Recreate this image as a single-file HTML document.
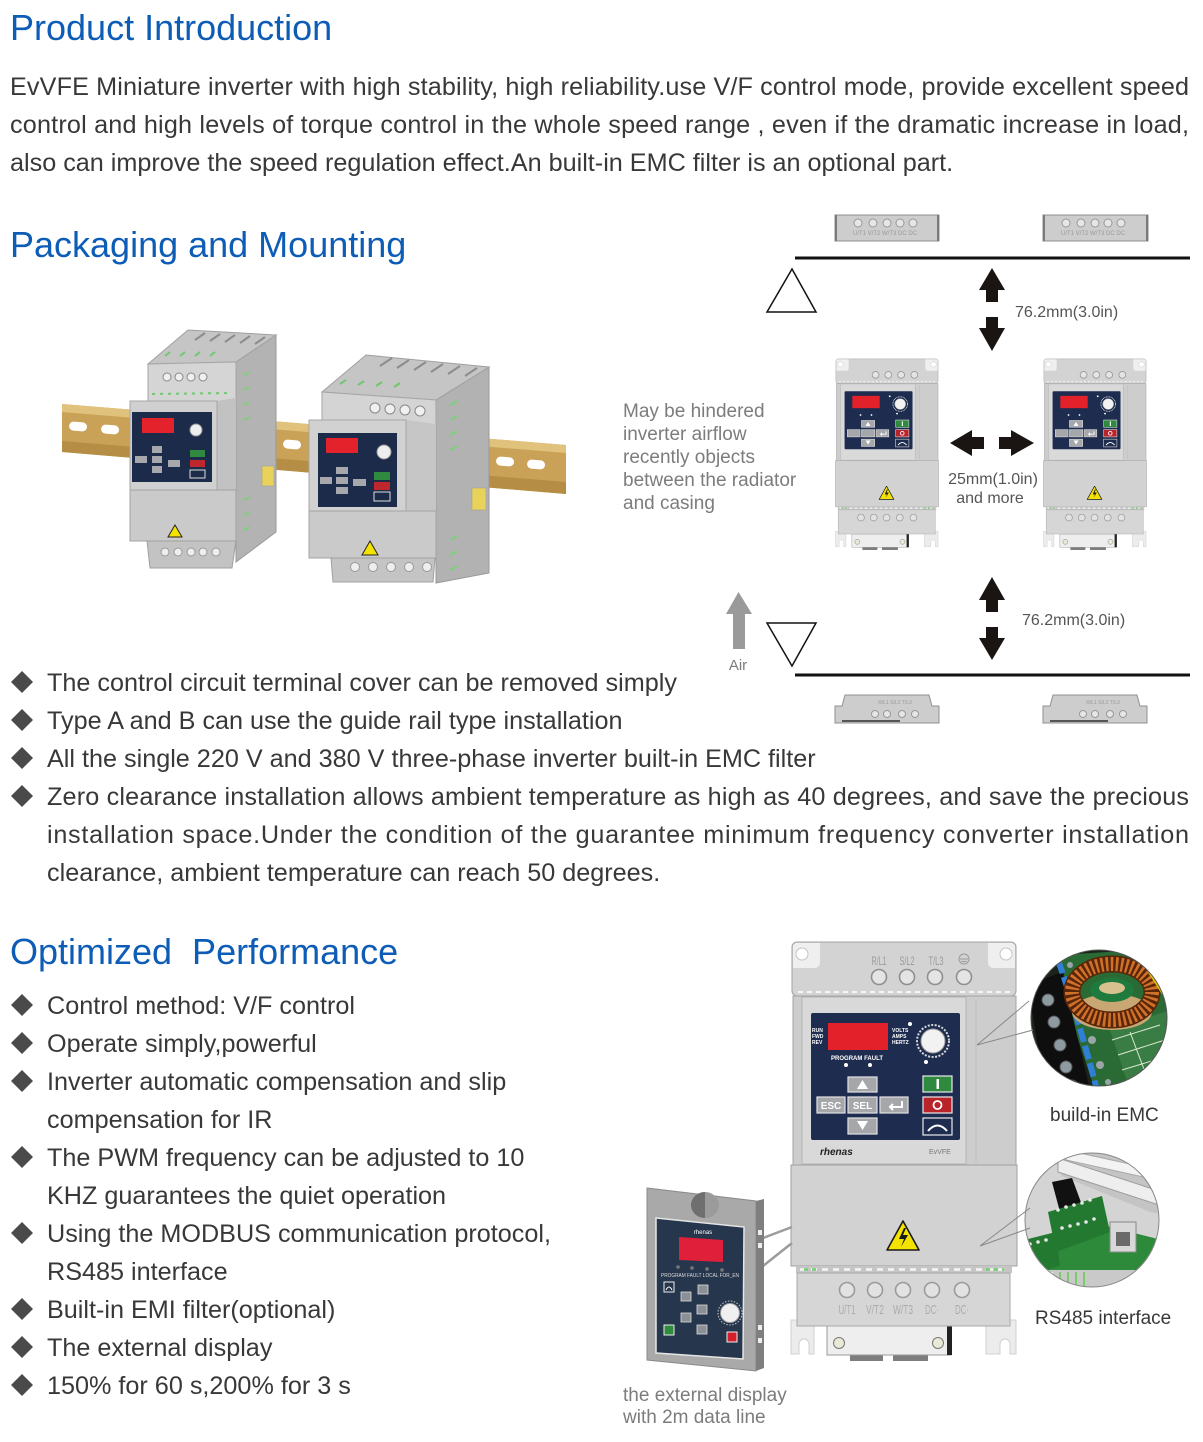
<!DOCTYPE html>
<html>
<head>
<meta charset="utf-8">
<style>
html,body{margin:0;padding:0;background:#fff;}
body{width:1203px;height:1442px;overflow:hidden;}
svg{display:block;}
text{font-family:"Liberation Sans",Arial,sans-serif;}
</style>
</head>
<body>
<svg width="1203" height="1442" viewBox="0 0 1203 1442" xmlns="http://www.w3.org/2000/svg">
<defs>
  <g id="inv">
    <rect x="60" y="414" width="33" height="7" fill="#7d7d7d"/>
    <rect x="103" y="414" width="35" height="7" fill="#7d7d7d"/>
    <path d="M1,380 H24 V414 H19 V404 A5,5 0 0 0 9,404 V414 H1 Z" fill="#ececec" stroke="#d0d0d0"/>
    <path d="M196,380 H226 V414 H220 V404 A5,5 0 0 0 210,404 V414 H196 Z" fill="#ececec" stroke="#d0d0d0"/>
    <rect x="37" y="386" width="124" height="29" fill="#eeeeee" stroke="#9a9a9a"/>
    <rect x="157" y="386" width="5" height="29" fill="#222"/>
    <circle cx="49" cy="403" r="5.5" fill="#e9e9d6" stroke="#777"/>
    <circle cx="148" cy="403" r="5.5" fill="#e9e9d6" stroke="#777"/>
    <rect x="2" y="2" width="224" height="54" rx="5" fill="#d3d3d3" stroke="#a3a3a3"/>
    <path d="M3,7 Q3,3 7,3 H30 V22 Q30,28 24,28 H3 Z" fill="#efefef"/>
    <circle cx="12" cy="14" r="6" fill="#fff" stroke="#c4c4c4"/>
    <path d="M225,7 Q225,3 221,3 H198 V22 Q198,28 204,28 H225 Z" fill="#efefef"/>
    <circle cx="216" cy="14" r="6" fill="#fff" stroke="#c4c4c4"/>
    <g fill="#e4e4e4" stroke="#8f8f8f" stroke-width="1.6">
      <circle cx="89" cy="37" r="7.5"/><circle cx="117" cy="37" r="7.5"/>
      <circle cx="145" cy="37" r="7.5"/><circle cx="174" cy="37" r="7.5"/>
    </g>
    <line x1="8" y1="52" x2="220" y2="52" stroke="#f6f6f6" stroke-width="2" stroke-dasharray="5 4"/>
    <rect x="3" y="56" width="223" height="170" fill="#cdcdcd" stroke="#a3a3a3"/>
    <rect x="12" y="57" width="164" height="167" fill="#d9d9d9" stroke="#b3b3b3"/>
    <line x1="186" y1="60" x2="186" y2="222" stroke="#bdbdbd"/>
    <rect x="21" y="73" width="149" height="127" rx="2" fill="#1e2d4f"/>
    <rect x="38" y="83" width="60" height="27" fill="#e3212a"/>
    <circle cx="143" cy="101" r="16" fill="none" stroke="#d8d8d8" stroke-width="2" stroke-dasharray="2 1.5"/>
    <circle cx="143" cy="101" r="12" fill="#f2f2f2" stroke="#999"/>
    <g fill="#fff">
      <circle cx="56" cy="125" r="2"/><circle cx="80" cy="125" r="2"/>
      <circle cx="136" cy="122" r="2"/><circle cx="120" cy="84" r="2"/>
    </g>
    <g fill="#a6a7ab" stroke="#e2e2e2" stroke-width="1.2">
      <rect x="58" y="137" width="29" height="15"/>
      <rect x="27" y="157" width="28" height="16"/>
      <rect x="58" y="157" width="29" height="16"/>
      <rect x="90" y="157" width="28" height="16"/>
      <rect x="58" y="178" width="29" height="16"/>
    </g>
    <path d="M72.5,140 L78,149 L67,149 Z" fill="#fff"/>
    <path d="M67,181 L78,181 L72.5,190 Z" fill="#fff"/>
    <path d="M112,161 V167 H100 M103,164 L100,167 L103,170" fill="none" stroke="#fff" stroke-width="2"/>
    <rect x="133" y="136" width="29" height="16" fill="#2f8a3f" stroke="#e8e8e8" stroke-width="1.2"/>
    <rect x="146.5" y="139" width="2.5" height="10" fill="#fff"/>
    <rect x="133" y="157" width="29" height="16" fill="#b8242a" stroke="#e8e8e8" stroke-width="1.2"/>
    <circle cx="147.5" cy="165" r="4" fill="none" stroke="#fff" stroke-width="1.8"/>
    <rect x="133" y="178" width="29" height="17" fill="#1e2d4f" stroke="#e8e8e8" stroke-width="1.2"/>
    <path d="M138,191 Q147.5,180 157,191" fill="none" stroke="#fff" stroke-width="2"/>
    <rect x="1" y="225" width="226" height="101" fill="#d2d2d2" stroke="#a0a0a0"/>
    <path d="M113,281 L129,310 L97,310 Z" fill="#f4e300" stroke="#1a1a1a" stroke-width="1.6" stroke-linejoin="round"/>
    <path d="M114,288 L109,299 L114,299 L111,307 L118,295 L113,295 L116,288 Z" fill="#1a1a1a"/>
    <rect x="6" y="326" width="216" height="7" fill="#c6c6c6"/>
    <line x1="10" y1="329.5" x2="218" y2="329.5" stroke="#f5f5f5" stroke-width="2.5" stroke-dasharray="6 5"/>
    <line x1="14" y1="329.5" x2="30" y2="329.5" stroke="#6fd06f" stroke-width="2.5" stroke-dasharray="4 4"/>
    <line x1="196" y1="329.5" x2="214" y2="329.5" stroke="#6fd06f" stroke-width="2.5" stroke-dasharray="4 4"/>
    <rect x="7" y="333" width="213" height="53" fill="#d6d6d6" stroke="#a8a8a8"/>
    <g fill="#e2e2e2" stroke="#9a9a9a" stroke-width="1.6">
      <circle cx="57" cy="350" r="7.5"/><circle cx="85" cy="350" r="7.5"/>
      <circle cx="113" cy="350" r="7.5"/><circle cx="142" cy="350" r="7.5"/>
      <circle cx="172" cy="350" r="7.5"/>
    </g>
  </g>
  <clipPath id="c1"><circle cx="1099" cy="1018" r="68"/></clipPath>
  <clipPath id="c2"><circle cx="1092" cy="1220" r="67"/></clipPath>
</defs>

<g font-size="36" fill="#0d5cb6">
  <text x="10" y="40">Product Introduction</text>
  <text x="10" y="257">Packaging and Mounting</text>
  <text x="10" y="964" style="white-space:pre">Optimized  Performance</text>
</g>

<g font-size="25.2" fill="#383838">
  <text x="10" y="95" textLength="1179" lengthAdjust="spacing">EvVFE Miniature inverter with high stability, high reliability.use V/F control mode, provide excellent speed</text>
  <text x="10" y="133" textLength="1179" lengthAdjust="spacing">control and high levels of torque control in the whole speed range , even if the dramatic increase in load,</text>
  <text x="10" y="171">also can improve the speed regulation effect.An built-in EMC filter is an optional part.</text>
</g>

<g fill="#4a4a4a">
  <path d="M22,671 L33,682 L22,693 L11,682 Z"/>
  <path d="M22,709 L33,720 L22,731 L11,720 Z"/>
  <path d="M22,747 L33,758 L22,769 L11,758 Z"/>
  <path d="M22,785 L33,796 L22,807 L11,796 Z"/>
</g>
<g font-size="25.2" fill="#383838">
  <text x="47" y="691">The control circuit terminal cover can be removed simply</text>
  <text x="47" y="729">Type A and B can use the guide rail type installation</text>
  <text x="47" y="767">All the single 220 V and 380 V three-phase inverter built-in EMC filter</text>
  <text x="47" y="805" textLength="1142" lengthAdjust="spacing">Zero clearance installation allows ambient temperature as high as 40 degrees, and save the precious</text>
  <text x="47" y="843" textLength="1142" lengthAdjust="spacing">installation space.Under the condition of the guarantee minimum frequency converter installation</text>
  <text x="47" y="881">clearance, ambient temperature can reach 50 degrees.</text>
</g>

<g fill="#4a4a4a">
  <path d="M22,994 L33,1005 L22,1016 L11,1005 Z"/>
  <path d="M22,1032 L33,1043 L22,1054 L11,1043 Z"/>
  <path d="M22,1070 L33,1081 L22,1092 L11,1081 Z"/>
  <path d="M22,1146 L33,1157 L22,1168 L11,1157 Z"/>
  <path d="M22,1222 L33,1233 L22,1244 L11,1233 Z"/>
  <path d="M22,1298 L33,1309 L22,1320 L11,1309 Z"/>
  <path d="M22,1336 L33,1347 L22,1358 L11,1347 Z"/>
  <path d="M22,1374 L33,1385 L22,1396 L11,1385 Z"/>
</g>
<g font-size="25.2" fill="#383838">
  <text x="47" y="1014">Control method: V/F control</text>
  <text x="47" y="1052">Operate simply,powerful</text>
  <text x="47" y="1090">Inverter automatic compensation and slip</text>
  <text x="47" y="1128">compensation for IR</text>
  <text x="47" y="1166">The PWM frequency can be adjusted to 10</text>
  <text x="47" y="1204">KHZ guarantees the quiet operation</text>
  <text x="47" y="1242">Using the MODBUS communication protocol,</text>
  <text x="47" y="1280">RS485 interface</text>
  <text x="47" y="1318">Built-in EMI filter(optional)</text>
  <text x="47" y="1356">The external display</text>
  <text x="47" y="1394">150% for 60 s,200% for 3 s</text>
</g>

<!-- DIN rail picture -->
<polygon points="62,404 566,445 566,494 62,452" fill="#c9a257"/>
<polygon points="62,404 566,445 566,453 62,412" fill="#e0c27c"/>
<polygon points="62,441 566,482 566,494 62,452" fill="#b58d45"/>
<g fill="#fff">
  <rect x="69" y="422" width="18" height="9" rx="4.5" transform="rotate(4.6 78 427)"/>
  <rect x="101" y="425" width="18" height="9" rx="4.5" transform="rotate(4.6 110 430)"/>
  <rect x="283" y="440" width="18" height="9" rx="4.5" transform="rotate(4.6 292 445)"/>
  <rect x="496" y="457" width="18" height="9" rx="4.5" transform="rotate(4.6 505 462)"/>
  <rect x="527" y="460" width="18" height="9" rx="4.5" transform="rotate(4.6 536 465)"/>
</g>

<polygon points="236,362 276,335 276,532 236,562" fill="#b3b3b3" stroke="#9a9a9a"/>
<g stroke="#7fcf7f" stroke-width="2">
  <line x1="244" y1="375" x2="250" y2="372"/><line x1="244" y1="390" x2="250" y2="387"/>
  <line x1="244" y1="405" x2="250" y2="402"/><line x1="244" y1="420" x2="250" y2="417"/>
  <line x1="244" y1="500" x2="250" y2="497"/><line x1="244" y1="515" x2="250" y2="512"/>
  <line x1="244" y1="530" x2="250" y2="527"/>
</g>
<rect x="262" y="466" width="12" height="20" fill="#e8d25a" stroke="#999" stroke-width="0.5"/>
<polygon points="148,364 188,330 276,335 236,362" fill="#c5c5c5" stroke="#a0a0a0"/>
<g stroke="#8c8c8c" stroke-width="2">
  <line x1="195" y1="340" x2="205" y2="333"/><line x1="210" y1="341" x2="220" y2="334"/>
  <line x1="225" y1="342" x2="235" y2="335"/><line x1="240" y1="343" x2="250" y2="336"/>
  <line x1="255" y1="344" x2="265" y2="337"/>
</g>
<g stroke="#6fc86f" stroke-width="2">
  <line x1="165" y1="356" x2="170" y2="352"/><line x1="180" y1="356" x2="185" y2="352"/>
  <line x1="195" y1="356" x2="200" y2="352"/><line x1="210" y1="356" x2="215" y2="352"/>
</g>
<polygon points="148,364 236,362 236,402 148,404" fill="#d5d5d5" stroke="#a6a6a6"/>
<g fill="#f0f0f0" stroke="#888">
  <circle cx="167" cy="377" r="4"/><circle cx="179" cy="377" r="4"/>
  <circle cx="191" cy="377" r="4"/><circle cx="203" cy="377" r="4"/>
</g>
<line x1="152" y1="394" x2="232" y2="393" stroke="#6fc86f" stroke-width="2" stroke-dasharray="3 5"/>
<polygon points="217,401 236,398 236,540 217,493" fill="#c2c2c2"/>
<rect x="130" y="401" width="87" height="92" fill="#d0d0d0" stroke="#a6a6a6"/>
<rect x="132" y="412" width="80" height="70" fill="#1d2b4a"/>
<rect x="142" y="418" width="32" height="15" fill="#e3222b"/>
<circle cx="196" cy="430" r="6" fill="#eee" stroke="#999"/>
<g fill="#a7a8ac">
  <rect x="152" y="446" width="10" height="7"/><rect x="135" y="456" width="12" height="7"/>
  <rect x="152" y="456" width="10" height="7"/><rect x="168" y="460" width="12" height="7"/>
  <rect x="152" y="466" width="10" height="7"/>
</g>
<rect x="190" y="450" width="15" height="7" fill="#2f8a3f"/>
<rect x="190" y="460" width="15" height="7" fill="#c0272d"/>
<rect x="190" y="470" width="15" height="8" fill="#1d2b4a" stroke="#ddd"/>
<rect x="130" y="490" width="106" height="51" fill="#cacaca" stroke="#a3a3a3"/>
<path d="M175,525 L182,537 L168,537 Z" fill="#f4e300" stroke="#222"/>
<polygon points="147,541 236,541 232,568 150,568" fill="#c3c3c3" stroke="#a0a0a0"/>
<g fill="#eee" stroke="#999">
  <circle cx="165" cy="552" r="4"/><circle cx="178" cy="552" r="4"/>
  <circle cx="191" cy="552" r="4"/><circle cx="203" cy="552" r="4"/><circle cx="216" cy="552" r="4"/>
</g>

<polygon points="436,400 489,367 489,573 436,583" fill="#b2b2b2" stroke="#999"/>
<g stroke="#7fcf7f" stroke-width="2">
  <line x1="450" y1="405" x2="458" y2="401"/><line x1="450" y1="420" x2="458" y2="416"/>
  <line x1="450" y1="435" x2="458" y2="431"/><line x1="450" y1="450" x2="458" y2="446"/>
  <line x1="450" y1="540" x2="458" y2="536"/><line x1="450" y1="555" x2="458" y2="551"/>
  <line x1="450" y1="570" x2="458" y2="566"/>
</g>
<rect x="472" y="488" width="14" height="22" fill="#e8d25a" stroke="#999" stroke-width="0.5"/>
<polygon points="322,392 366,355 489,367 436,400" fill="#c5c5c5" stroke="#a0a0a0"/>
<g stroke="#8c8c8c" stroke-width="2">
  <line x1="380" y1="366" x2="392" y2="358"/><line x1="397" y1="368" x2="409" y2="360"/>
  <line x1="414" y1="370" x2="426" y2="362"/><line x1="431" y1="372" x2="443" y2="364"/>
  <line x1="448" y1="374" x2="460" y2="366"/><line x1="465" y1="376" x2="477" y2="368"/>
</g>
<g stroke="#6fc86f" stroke-width="2">
  <line x1="340" y1="384" x2="346" y2="380"/><line x1="358" y1="385" x2="364" y2="381"/>
  <line x1="376" y1="386" x2="382" y2="382"/><line x1="394" y1="387" x2="400" y2="383"/>
</g>
<polygon points="322,392 436,400 436,425 322,420" fill="#d4d4d4" stroke="#a6a6a6"/>
<g fill="#f0f0f0" stroke="#888">
  <circle cx="375" cy="408" r="5"/><circle cx="390" cy="409" r="5"/>
  <circle cx="405" cy="410" r="5"/><circle cx="420" cy="411" r="5"/>
</g>
<polygon points="406,420 436,424 436,512 406,512" fill="#c6c6c6"/>
<rect x="309" y="420" width="97" height="92" fill="#d1d1d1" stroke="#a6a6a6"/>
<rect x="318" y="433" width="79" height="74" fill="#1d2b4a"/>
<rect x="326" y="438" width="32" height="15" fill="#e3222b"/>
<circle cx="384" cy="452" r="7" fill="#eee" stroke="#999"/>
<g fill="#a7a8ac">
  <rect x="336" y="467" width="12" height="7"/><rect x="320" y="477" width="12" height="7"/>
  <rect x="336" y="477" width="12" height="7"/><rect x="353" y="479" width="13" height="7"/>
  <rect x="336" y="487" width="12" height="7"/>
</g>
<rect x="374" y="472" width="16" height="8" fill="#2f8a3f"/>
<rect x="374" y="482" width="16" height="8" fill="#c0272d"/>
<rect x="374" y="492" width="16" height="9" fill="#1d2b4a" stroke="#ddd"/>
<rect x="309" y="511" width="127" height="47" fill="#cacaca" stroke="#a3a3a3"/>
<path d="M370,541 L378,555 L362,555 Z" fill="#f4e300" stroke="#222"/>
<polygon points="331,558 435,558 433,582 333,582" fill="#c4c4c4" stroke="#a0a0a0"/>
<g fill="#eee" stroke="#999">
  <circle cx="355" cy="567" r="4.5"/><circle cx="373" cy="567" r="4.5"/>
  <circle cx="391" cy="567" r="4.5"/><circle cx="409" cy="567" r="4.5"/><circle cx="427" cy="567" r="4.5"/>
</g>

<!-- clearance diagram -->
<g>
  <rect x="835" y="215" width="104" height="26" fill="#cdcdcd" stroke="#8e8e8e"/>
  <rect x="835" y="215" width="2" height="26" fill="#7a7a7a"/><rect x="937" y="215" width="2" height="26" fill="#7a7a7a"/>
  <g fill="#e6e6e6" stroke="#999"><circle cx="858" cy="223" r="4"/><circle cx="873" cy="223" r="4"/><circle cx="887" cy="223" r="4"/><circle cx="900" cy="223" r="4"/><circle cx="913" cy="223" r="4"/></g>
  <text x="885" y="235" font-size="6" fill="#9a9a9a" text-anchor="middle">U/T1 V/T2 W/T3 DC DC</text>
  <rect x="1043" y="215" width="105" height="26" fill="#cdcdcd" stroke="#8e8e8e"/>
  <rect x="1043" y="215" width="2" height="26" fill="#7a7a7a"/><rect x="1146" y="215" width="2" height="26" fill="#7a7a7a"/>
  <g fill="#e6e6e6" stroke="#999"><circle cx="1066" cy="223" r="4"/><circle cx="1081" cy="223" r="4"/><circle cx="1095" cy="223" r="4"/><circle cx="1108" cy="223" r="4"/><circle cx="1121" cy="223" r="4"/></g>
  <text x="1093" y="235" font-size="6" fill="#9a9a9a" text-anchor="middle">U/T1 V/T2 W/T3 DC DC</text>
</g>
<line x1="795" y1="258" x2="1190" y2="258" stroke="#111" stroke-width="3"/>
<line x1="795" y1="675" x2="1190" y2="675" stroke="#111" stroke-width="3"/>
<polygon points="792,269 816,312 767,312" fill="none" stroke="#111" stroke-width="1.5"/>
<polygon points="767,623 816,623 792,666" fill="none" stroke="#111" stroke-width="1.5"/>
<g fill="#1a1512">
  <path d="M992,268 L1005,290 L998,290 L998,302 L986,302 L986,290 L979,290 Z"/>
  <path d="M986,317 L998,317 L998,328 L1005,328 L992,351 L979,328 L986,328 Z"/>
  <path d="M992,577 L1005,600 L998,600 L998,612 L986,612 L986,600 L979,600 Z"/>
  <path d="M986,627 L998,627 L998,638 L1005,638 L992,660 L979,638 L986,638 Z"/>
  <path d="M950,443 L972,430 L972,437 L984,437 L984,449 L972,449 L972,456 Z"/>
  <path d="M1034,443 L1011,430 L1011,437 L999,437 L999,449 L1011,449 L1011,456 Z"/>
</g>
<path d="M738.5,592 L752,614 L745,614 L745,649 L733,649 L733,614 L726,614 Z" fill="#9a9a9a"/>

<use href="#inv" transform="translate(835,358) scale(0.456)"/>
<use href="#inv" transform="translate(1043,358) scale(0.456)"/>

<path d="M835,723 V706 H842 L845,695 H929 L932,706 H939 V723 Z" fill="#cdcdcd" stroke="#909090"/>
<g fill="#e6e6e6" stroke="#999"><circle cx="875" cy="714" r="3.5"/><circle cx="887" cy="714" r="3.5"/><circle cx="902" cy="714" r="3.5"/><circle cx="915" cy="714" r="3.5"/></g>
<text x="895" y="704" font-size="5" fill="#9a9a9a" text-anchor="middle">R/L1 S/L2 T/L3</text>
<line x1="842" y1="721" x2="900" y2="721" stroke="#555" stroke-width="2"/>
<path d="M1043,723 V706 H1050 L1053,695 H1137 L1140,706 H1147 V723 Z" fill="#cdcdcd" stroke="#909090"/>
<g fill="#e6e6e6" stroke="#999"><circle cx="1083" cy="714" r="3.5"/><circle cx="1095" cy="714" r="3.5"/><circle cx="1110" cy="714" r="3.5"/><circle cx="1123" cy="714" r="3.5"/></g>
<text x="1103" y="704" font-size="5" fill="#9a9a9a" text-anchor="middle">R/L1 S/L2 T/L3</text>
<line x1="1050" y1="721" x2="1108" y2="721" stroke="#555" stroke-width="2"/>

<g font-size="19" fill="#7c7c7c">
  <text x="623" y="417">May be hindered</text>
  <text x="623" y="440">inverter airflow</text>
  <text x="623" y="463">recently objects</text>
  <text x="623" y="486">between the radiator</text>
  <text x="623" y="509">and casing</text>
</g>
<g font-size="16" fill="#555">
  <text x="1015" y="317">76.2mm(3.0in)</text>
  <text x="1022" y="625">76.2mm(3.0in)</text>
  <text x="993" y="484" text-anchor="middle">25mm(1.0in)</text>
  <text x="990" y="503" text-anchor="middle">and more</text>
</g>
<text x="738" y="670" font-size="15" fill="#7c7c7c" text-anchor="middle">Air</text>

<!-- big inverter -->
<use href="#inv" transform="translate(790,940)"/>
<g font-size="12" fill="#9a9a9a" text-anchor="middle">
  <text x="879" y="965" textLength="15" lengthAdjust="spacingAndGlyphs">R/L1</text>
  <text x="907" y="965" textLength="15" lengthAdjust="spacingAndGlyphs">S/L2</text>
  <text x="936" y="965" textLength="15" lengthAdjust="spacingAndGlyphs">T/L3</text>
</g>
<circle cx="964" cy="959" r="5" fill="none" stroke="#9a9a9a"/>
<line x1="960" y1="959" x2="968" y2="959" stroke="#9a9a9a"/>
<line x1="961.5" y1="961.5" x2="966.5" y2="961.5" stroke="#9a9a9a"/>
<g font-size="5" fill="#fff" font-weight="bold">
  <text x="812" y="1032">RUN</text><text x="812" y="1038">FWD</text><text x="812" y="1044">REV</text>
  <text x="892" y="1032">VOLTS</text><text x="892" y="1038">AMPS</text><text x="892" y="1044">HERTZ</text>
</g>
<text x="831" y="1060" font-size="6.5" font-weight="bold" fill="#fff" textLength="52" lengthAdjust="spacingAndGlyphs">PROGRAM FAULT</text>
<text x="831" y="1109" font-size="10" font-weight="bold" fill="#fff" text-anchor="middle">ESC</text>
<text x="862.5" y="1109" font-size="10" font-weight="bold" fill="#fff" text-anchor="middle">SEL</text>
<text x="820" y="1155" font-size="10" font-style="italic" font-weight="bold" fill="#222">rhenas</text>
<text x="929" y="1154" font-size="7" fill="#777">EvVFE</text>
<g font-size="13" fill="#ababab" text-anchor="middle">
  <text x="847" y="1314" textLength="17" lengthAdjust="spacingAndGlyphs">U/T1</text>
  <text x="875" y="1314" textLength="18" lengthAdjust="spacingAndGlyphs">V/T2</text>
  <text x="903" y="1314" textLength="20" lengthAdjust="spacingAndGlyphs">W/T3</text>
  <text x="932" y="1314" textLength="14" lengthAdjust="spacingAndGlyphs">DC·</text>
  <text x="962" y="1314" textLength="14" lengthAdjust="spacingAndGlyphs">DC·</text>
</g>

<!-- EMC circle -->
<g clip-path="url(#c1)">
  <rect x="1028" y="948" width="142" height="142" fill="#1a2418"/>
  <polygon points="1060,955 1170,948 1170,1090 1095,1090 1075,1030" fill="#2a6a35"/>
  <polygon points="1110,1030 1170,1010 1170,1090 1130,1090" fill="#3a7d44"/>
  <g stroke="#d8e8d0" stroke-width="1" fill="none">
    <path d="M1112,1040 L1160,1025 M1118,1055 L1165,1040 M1122,1070 L1168,1056 M1130,1032 L1148,1080"/>
  </g>
  <polygon points="1028,985 1062,972 1090,1090 1045,1090" fill="#0e0e0e"/>
  <g fill="#8d9aa0" stroke="#555">
    <circle cx="1048" cy="1000" r="6"/><circle cx="1054" cy="1022" r="6"/>
    <circle cx="1060" cy="1045" r="6"/><circle cx="1066" cy="1067" r="6"/><circle cx="1072" cy="1086" r="6"/>
  </g>
  <path d="M1058,960 C1072,1000 1084,1040 1097,1090" stroke="#2f7fd6" stroke-width="6" fill="none" stroke-dasharray="14 4"/>
  <ellipse cx="1112" cy="1012" rx="40" ry="18" fill="#c8a773"/>
  <ellipse cx="1112" cy="992" rx="40" ry="28" fill="none" stroke="#5a260a" stroke-width="17"/>
  <ellipse cx="1112" cy="992" rx="40" ry="28" fill="none" stroke="#d0712a" stroke-width="14" stroke-dasharray="2.5 2.5"/>
  <ellipse cx="1112" cy="990" rx="22" ry="12" fill="#1f7a3e"/>
  <ellipse cx="1112" cy="988" rx="13" ry="6" fill="#d7c18e"/>
  <line x1="1150" y1="972" x2="1168" y2="1000" stroke="#e0c000" stroke-width="4"/>
  <g fill="#9aa5a8"><circle cx="1092" cy="1040" r="4"/><circle cx="1100" cy="1065" r="4"/><circle cx="1108" cy="1082" r="3"/><circle cx="1070" cy="965" r="3"/></g>
</g>
<circle cx="1099" cy="1018" r="68" fill="none" stroke="#555" stroke-width="1"/>
<path d="M1029,1001 L977,1045 L1033,1030" fill="none" stroke="#888" stroke-width="1"/>
<text x="1050" y="1121" font-size="19" fill="#383838">build-in EMC</text>

<!-- RS485 circle -->
<g clip-path="url(#c2)">
  <rect x="1022" y="1150" width="145" height="142" fill="#d4d4d4"/>
  <polygon points="1050,1150 1166,1150 1166,1215 1150,1212 1062,1176" fill="#c4c4c4"/>
  <polygon points="1058,1158 1162,1192 1162,1206 1058,1172" fill="#eeeeee" stroke="#9c9c9c"/>
  <polygon points="1066,1150 1166,1172 1166,1182 1066,1160" fill="#f3f3f3" stroke="#a8a8a8"/>
  <polygon points="1052,1182 1072,1178 1082,1205 1060,1212" fill="#111"/>
  <polygon points="1025,1248 1090,1222 1130,1232 1162,1240 1162,1266 1080,1296 1025,1286" fill="#2e8a3b"/>
  <polygon points="1048,1212 1102,1196 1110,1232 1056,1252" fill="#23792f"/>
  <polygon points="1024,1240 1056,1232 1060,1266 1024,1276" fill="#23792f"/>
  <g fill="#e8e8e8">
    <circle cx="1058" cy="1210" r="1.8"/><circle cx="1066" cy="1207" r="1.8"/><circle cx="1074" cy="1205" r="1.8"/><circle cx="1082" cy="1203" r="1.8"/><circle cx="1090" cy="1200" r="1.8"/>
    <circle cx="1062" cy="1228" r="1.8"/><circle cx="1070" cy="1226" r="1.8"/><circle cx="1078" cy="1224" r="1.8"/><circle cx="1086" cy="1222" r="1.8"/><circle cx="1094" cy="1219" r="1.8"/>
    <circle cx="1030" cy="1244" r="1.8"/><circle cx="1038" cy="1242" r="1.8"/><circle cx="1046" cy="1240" r="1.8"/>
  </g>
  <rect x="1110" y="1222" width="26" height="30" fill="#d8d8d8" stroke="#888"/>
  <rect x="1116" y="1232" width="14" height="14" fill="#6a6a6a"/>
  <rect x="1030" y="1270" width="135" height="25" fill="#c9c9c9"/>
  <g stroke="#7acb6a" stroke-width="2">
    <line x1="1060" y1="1272" x2="1060" y2="1290"/><line x1="1068" y1="1272" x2="1068" y2="1290"/>
    <line x1="1076" y1="1272" x2="1076" y2="1290"/><line x1="1084" y1="1272" x2="1084" y2="1290"/>
  </g>
  <g stroke="#f2f2f2" stroke-width="2">
    <line x1="1045" y1="1272" x2="1045" y2="1290"/><line x1="1052" y1="1272" x2="1052" y2="1290"/>
  </g>
</g>
<circle cx="1092" cy="1220" r="67" fill="none" stroke="#888" stroke-width="1"/>
<path d="M1030,1208 L980,1246 L1030,1228" fill="none" stroke="#888" stroke-width="1"/>
<text x="1035" y="1324" font-size="19" fill="#383838">RS485 interface</text>

<!-- external display -->
<path d="M763,1238 L792,1227" stroke="#9c9c9c" stroke-width="2.5"/>
<path d="M763,1266 L792,1243" stroke="#9c9c9c" stroke-width="2.5"/>
<polygon points="647,1188 756,1201 756,1371 647,1360" fill="#a9a9a9" stroke="#8a8a8a"/>
<polygon points="756,1201 764,1199 764,1368 756,1371" fill="#7f7f7f"/>
<g fill="#eee">
  <rect x="758" y="1230" width="4" height="5"/><rect x="758" y="1243" width="4" height="5"/>
  <rect x="758" y="1325" width="4" height="5"/><rect x="758" y="1338" width="4" height="5"/>
</g>
<ellipse cx="705" cy="1205" rx="14" ry="13" fill="#9b9b9b"/>
<path d="M691,1205 A14,13 0 0 1 705,1192 L705,1218 A14,13 0 0 1 691,1205 Z" fill="#6f6f6f"/>
<polygon points="656,1218 744,1227 743,1359 656,1353" fill="#26364d" stroke="#e5e5e5" stroke-width="1.5"/>
<polygon points="679,1237 723,1240 723,1262 679,1260" fill="#e0203a"/>
<text x="703" y="1234" font-size="6" fill="#fff" text-anchor="middle">rhenas</text>
<g fill="#777"><circle cx="678" cy="1267" r="1.8"/><circle cx="692" cy="1268" r="1.8"/><circle cx="707" cy="1269" r="1.8"/><circle cx="722" cy="1270" r="1.8"/></g>
<text x="661" y="1277" font-size="5" fill="#ddd" textLength="78" lengthAdjust="spacingAndGlyphs">PROGRAM FAULT LOCAL FOR_EN</text>
<rect x="664" y="1282" width="10" height="10" fill="#26364d" stroke="#eee"/>
<path d="M666,1290 Q669,1284 672,1290" fill="none" stroke="#fff"/>
<g fill="#8b8f96" stroke="#ddd" stroke-width="0.8">
  <rect x="698" y="1285" width="10" height="9"/><rect x="681" y="1292" width="10" height="9"/>
  <rect x="697" y="1305" width="10" height="9"/><rect x="681" y="1313" width="10" height="9"/>
  <rect x="697" y="1325" width="10" height="9"/>
</g>
<rect x="664" y="1325" width="10" height="10" fill="#2e8b3e" stroke="#eee"/>
<rect x="727" y="1332" width="10" height="10" fill="#d3202a" stroke="#eee"/>
<circle cx="730" cy="1313" r="12" fill="none" stroke="#ccc" stroke-dasharray="1.5 1.5"/>
<circle cx="730" cy="1313" r="9.5" fill="#f0f0f0" stroke="#999"/>
<g font-size="19" fill="#7c7c7c">
  <text x="623" y="1401">the external display</text>
  <text x="623" y="1423">with 2m data line</text>
</g>
</svg>
</body>
</html>
